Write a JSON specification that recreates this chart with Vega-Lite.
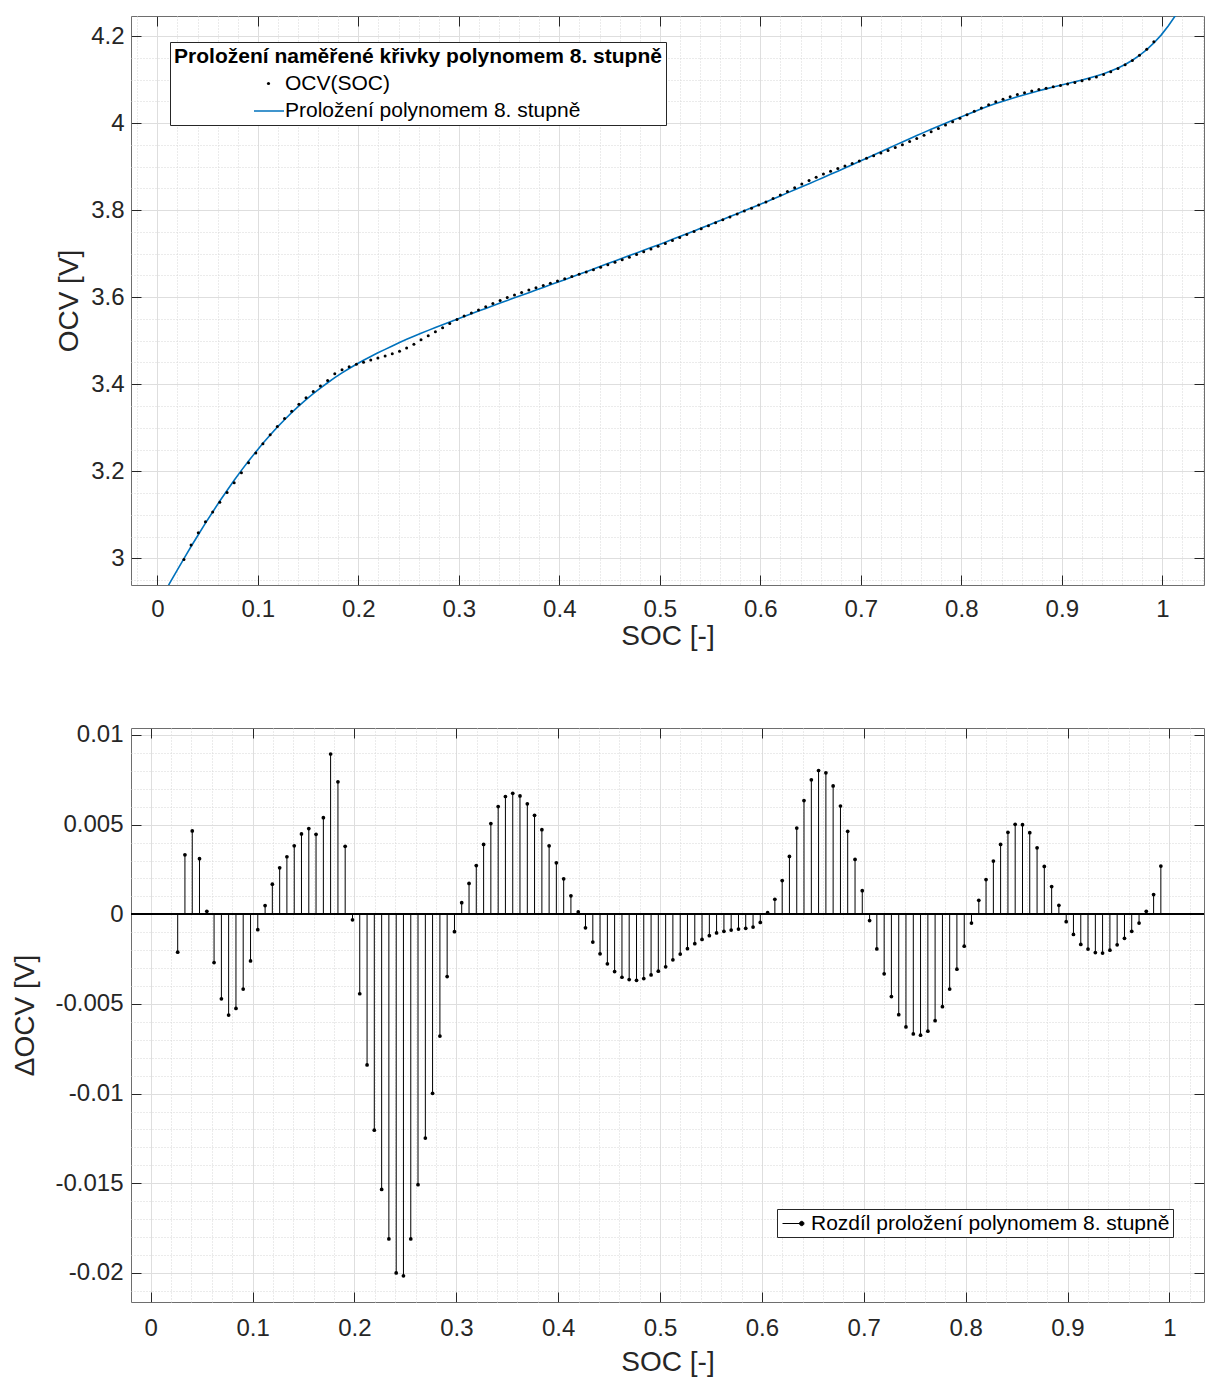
{
 "$schema": "https://vega.github.io/schema/vega-lite/v6.json",
 "background": "white",
 "padding": {"left": 11, "top": 15, "right": 2, "bottom": 4},
 "datasets": {
  "m": [
   {"soc":0.0051,"fit":2.9125},{"soc":0.0122,"fit":2.9422},{"soc":0.0194,"fit":2.9712},
   {"soc":0.0265,"ocv":2.9974,"fit":2.9995,"d":-0.00211},
   {"soc":0.0336,"ocv":3.0304,"fit":3.0271,"d":0.00332},
   {"soc":0.0408,"ocv":3.0589,"fit":3.0542,"d":0.00465},
   {"soc":0.0479,"ocv":3.0838,"fit":3.0807,"d":0.0031},
   {"soc":0.0551,"ocv":3.1067,"fit":3.1065,"d":0.00017},
   {"soc":0.0622,"ocv":3.1289,"fit":3.1316,"d":-0.00269},
   {"soc":0.0694,"ocv":3.1512,"fit":3.1559,"d":-0.00471},
   {"soc":0.0765,"ocv":3.1738,"fit":3.1794,"d":-0.00562},
   {"soc":0.0837,"ocv":3.1968,"fit":3.2020,"d":-0.00525},
   {"soc":0.0908,"ocv":3.2195,"fit":3.2237,"d":-0.00417},
   {"soc":0.0980,"ocv":3.2419,"fit":3.2445,"d":-0.0026},
   {"soc":0.1051,"ocv":3.2635,"fit":3.2644,"d":-0.00086},
   {"soc":0.1123,"ocv":3.2839,"fit":3.2834,"d":0.00049},
   {"soc":0.1194,"ocv":3.3031,"fit":3.3014,"d":0.00168},
   {"soc":0.1266,"ocv":3.3211,"fit":3.3185,"d":0.00259},
   {"soc":0.1337,"ocv":3.3379,"fit":3.3347,"d":0.00321},
   {"soc":0.1409,"ocv":3.3539,"fit":3.3501,"d":0.00382},
   {"soc":0.1480,"ocv":3.3691,"fit":3.3646,"d":0.00448},
   {"soc":0.1552,"ocv":3.3831,"fit":3.3783,"d":0.00478},
   {"soc":0.1623,"ocv":3.3957,"fit":3.3912,"d":0.00446},
   {"soc":0.1695,"ocv":3.4088,"fit":3.4034,"d":0.00539},
   {"soc":0.1766,"ocv":3.4239,"fit":3.4150,"d":0.00894},
   {"soc":0.1838,"ocv":3.4333,"fit":3.4259,"d":0.00739},
   {"soc":0.1909,"ocv":3.4400,"fit":3.4362,"d":0.00379},
   {"soc":0.1981,"ocv":3.4456,"fit":3.4459,"d":-0.00031},
   {"soc":0.2052,"ocv":3.4507,"fit":3.4551,"d":-0.00443},
   {"soc":0.2124,"ocv":3.4554,"fit":3.4638,"d":-0.0084},
   {"soc":0.2195,"ocv":3.4601,"fit":3.4721,"d":-0.01204},
   {"soc":0.2267,"ocv":3.4647,"fit":3.4800,"d":-0.01534},
   {"soc":0.2338,"ocv":3.4698,"fit":3.4879,"d":-0.0181},
   {"soc":0.2410,"ocv":3.4760,"fit":3.4960,"d":-0.02},
   {"soc":0.2481,"ocv":3.4830,"fit":3.5032,"d":-0.02016},
   {"soc":0.2553,"ocv":3.4921,"fit":3.5102,"d":-0.0181},
   {"soc":0.2624,"ocv":3.5019,"fit":3.5170,"d":-0.01508},
   {"soc":0.2696,"ocv":3.5112,"fit":3.5237,"d":-0.01248},
   {"soc":0.2767,"ocv":3.5203,"fit":3.5303,"d":-0.00998},
   {"soc":0.2839,"ocv":3.5300,"fit":3.5368,"d":-0.00679},
   {"soc":0.2910,"ocv":3.5397,"fit":3.5432,"d":-0.00347},
   {"soc":0.2982,"ocv":3.5485,"fit":3.5495,"d":-0.00097},
   {"soc":0.3053,"ocv":3.5565,"fit":3.5558,"d":0.00065},
   {"soc":0.3125,"ocv":3.5637,"fit":3.5620,"d":0.00172},
   {"soc":0.3196,"ocv":3.5708,"fit":3.5681,"d":0.00272},
   {"soc":0.3268,"ocv":3.5781,"fit":3.5742,"d":0.0039},
   {"soc":0.3339,"ocv":3.5854,"fit":3.5803,"d":0.00506},
   {"soc":0.3411,"ocv":3.5924,"fit":3.5864,"d":0.00601},
   {"soc":0.3482,"ocv":3.5990,"fit":3.5924,"d":0.00657},
   {"soc":0.3554,"ocv":3.6052,"fit":3.5984,"d":0.00675},
   {"soc":0.3625,"ocv":3.6110,"fit":3.6044,"d":0.0066},
   {"soc":0.3697,"ocv":3.6166,"fit":3.6104,"d":0.00616},
   {"soc":0.3768,"ocv":3.6219,"fit":3.6164,"d":0.00552},
   {"soc":0.3840,"ocv":3.6271,"fit":3.6224,"d":0.00472},
   {"soc":0.3911,"ocv":3.6322,"fit":3.6284,"d":0.00382},
   {"soc":0.3982,"ocv":3.6372,"fit":3.6343,"d":0.00287},
   {"soc":0.4054,"ocv":3.6423,"fit":3.6403,"d":0.00198},
   {"soc":0.4125,"ocv":3.6473,"fit":3.6463,"d":0.00103},
   {"soc":0.4197,"ocv":3.6525,"fit":3.6524,"d":0.00013},
   {"soc":0.4268,"ocv":3.6578,"fit":3.6585,"d":-0.00075},
   {"soc":0.4340,"ocv":3.6632,"fit":3.6647,"d":-0.00155},
   {"soc":0.4411,"ocv":3.6687,"fit":3.6709,"d":-0.0022},
   {"soc":0.4483,"ocv":3.6743,"fit":3.6771,"d":-0.00276},
   {"soc":0.4554,"ocv":3.6801,"fit":3.6833,"d":-0.00319},
   {"soc":0.4626,"ocv":3.6859,"fit":3.6894,"d":-0.00351},
   {"soc":0.4697,"ocv":3.6919,"fit":3.6955,"d":-0.00364},
   {"soc":0.4769,"ocv":3.6979,"fit":3.7016,"d":-0.00368},
   {"soc":0.4840,"ocv":3.7041,"fit":3.7077,"d":-0.00358},
   {"soc":0.4912,"ocv":3.7105,"fit":3.7139,"d":-0.00338},
   {"soc":0.4983,"ocv":3.7169,"fit":3.7201,"d":-0.00317},
   {"soc":0.5055,"ocv":3.7235,"fit":3.7264,"d":-0.00293},
   {"soc":0.5126,"ocv":3.7303,"fit":3.7328,"d":-0.00254},
   {"soc":0.5198,"ocv":3.7370,"fit":3.7392,"d":-0.00222},
   {"soc":0.5269,"ocv":3.7438,"fit":3.7457,"d":-0.00192},
   {"soc":0.5341,"ocv":3.7506,"fit":3.7522,"d":-0.00164},
   {"soc":0.5412,"ocv":3.7573,"fit":3.7587,"d":-0.0014},
   {"soc":0.5484,"ocv":3.7641,"fit":3.7653,"d":-0.00119},
   {"soc":0.5555,"ocv":3.7709,"fit":3.7719,"d":-0.00104},
   {"soc":0.5627,"ocv":3.7776,"fit":3.7785,"d":-0.00095},
   {"soc":0.5698,"ocv":3.7843,"fit":3.7852,"d":-0.00088},
   {"soc":0.5770,"ocv":3.7910,"fit":3.7918,"d":-0.00082},
   {"soc":0.5841,"ocv":3.7977,"fit":3.7985,"d":-0.00078},
   {"soc":0.5913,"ocv":3.8045,"fit":3.8052,"d":-0.00071},
   {"soc":0.5984,"ocv":3.8116,"fit":3.8120,"d":-0.00045},
   {"soc":0.6056,"ocv":3.8189,"fit":3.8188,"d":0.00009},
   {"soc":0.6127,"ocv":3.8265,"fit":3.8257,"d":0.00084},
   {"soc":0.6199,"ocv":3.8345,"fit":3.8326,"d":0.00188},
   {"soc":0.6270,"ocv":3.8428,"fit":3.8396,"d":0.00323},
   {"soc":0.6342,"ocv":3.8514,"fit":3.8466,"d":0.00481},
   {"soc":0.6413,"ocv":3.8599,"fit":3.8536,"d":0.00634},
   {"soc":0.6485,"ocv":3.8682,"fit":3.8607,"d":0.0075},
   {"soc":0.6556,"ocv":3.8758,"fit":3.8678,"d":0.00802},
   {"soc":0.6628,"ocv":3.8829,"fit":3.8750,"d":0.00789},
   {"soc":0.6699,"ocv":3.8894,"fit":3.8822,"d":0.00716},
   {"soc":0.6771,"ocv":3.8955,"fit":3.8895,"d":0.00604},
   {"soc":0.6842,"ocv":3.9015,"fit":3.8969,"d":0.00463},
   {"soc":0.6914,"ocv":3.9074,"fit":3.9043,"d":0.00306},
   {"soc":0.6985,"ocv":3.9131,"fit":3.9118,"d":0.00132},
   {"soc":0.7057,"ocv":3.9190,"fit":3.9193,"d":-0.00035},
   {"soc":0.7128,"ocv":3.9249,"fit":3.9268,"d":-0.00193},
   {"soc":0.7200,"ocv":3.9310,"fit":3.9343,"d":-0.00332},
   {"soc":0.7271,"ocv":3.9372,"fit":3.9418,"d":-0.00459},
   {"soc":0.7343,"ocv":3.9437,"fit":3.9493,"d":-0.0056},
   {"soc":0.7414,"ocv":3.9504,"fit":3.9567,"d":-0.00628},
   {"soc":0.7486,"ocv":3.9574,"fit":3.9641,"d":-0.00667},
   {"soc":0.7557,"ocv":3.9647,"fit":3.9714,"d":-0.00674},
   {"soc":0.7629,"ocv":3.9721,"fit":3.9786,"d":-0.00652},
   {"soc":0.7700,"ocv":3.9798,"fit":3.9857,"d":-0.00593},
   {"soc":0.7772,"ocv":3.9876,"fit":3.9927,"d":-0.00515},
   {"soc":0.7843,"ocv":3.9954,"fit":3.9996,"d":-0.00417},
   {"soc":0.7914,"ocv":4.0033,"fit":4.0064,"d":-0.00306},
   {"soc":0.7986,"ocv":4.0113,"fit":4.0131,"d":-0.00178},
   {"soc":0.8057,"ocv":4.0192,"fit":4.0197,"d":-0.00049},
   {"soc":0.8129,"ocv":4.0270,"fit":4.0262,"d":0.00078},
   {"soc":0.8200,"ocv":4.0347,"fit":4.0328,"d":0.00194},
   {"soc":0.8272,"ocv":4.0420,"fit":4.0390,"d":0.00297},
   {"soc":0.8343,"ocv":4.0487,"fit":4.0448,"d":0.0039},
   {"soc":0.8415,"ocv":4.0549,"fit":4.0503,"d":0.00457},
   {"soc":0.8486,"ocv":4.0605,"fit":4.0555,"d":0.00502},
   {"soc":0.8558,"ocv":4.0655,"fit":4.0605,"d":0.005},
   {"soc":0.8629,"ocv":4.0699,"fit":4.0653,"d":0.00455},
   {"soc":0.8701,"ocv":4.0736,"fit":4.0699,"d":0.00371},
   {"soc":0.8772,"ocv":4.0770,"fit":4.0743,"d":0.00267},
   {"soc":0.8844,"ocv":4.0802,"fit":4.0786,"d":0.00155},
   {"soc":0.8915,"ocv":4.0832,"fit":4.0827,"d":0.0005},
   {"soc":0.8987,"ocv":4.0863,"fit":4.0867,"d":-0.00041},
   {"soc":0.9058,"ocv":4.0896,"fit":4.0907,"d":-0.00112},
   {"soc":0.9130,"ocv":4.0931,"fit":4.0948,"d":-0.00168},
   {"soc":0.9201,"ocv":4.0971,"fit":4.0990,"d":-0.00194},
   {"soc":0.9273,"ocv":4.1013,"fit":4.1034,"d":-0.00213},
   {"soc":0.9344,"ocv":4.1060,"fit":4.1082,"d":-0.00216},
   {"soc":0.9416,"ocv":4.1115,"fit":4.1135,"d":-0.002},
   {"soc":0.9487,"ocv":4.1178,"fit":4.1195,"d":-0.0017},
   {"soc":0.9559,"ocv":4.1252,"fit":4.1265,"d":-0.00134},
   {"soc":0.9630,"ocv":4.1338,"fit":4.1347,"d":-0.00095},
   {"soc":0.9702,"ocv":4.1438,"fit":4.1443,"d":-0.00049},
   {"soc":0.9773,"ocv":4.1557,"fit":4.1555,"d":0.00017},
   {"soc":0.9845,"ocv":4.1697,"fit":4.1686,"d":0.0011},
   {"soc":0.9916,"ocv":4.1868,"fit":4.1841,"d":0.00269},
   {"soc":0.9988,"fit":4.2021},{"soc":1.0059,"fit":4.2231},{"soc":1.0131,"fit":4.2471},{"soc":1.0202,"fit":4.2741}
  ]
 },
 "vconcat": [
  {
   "width": 1073,
   "height": 569,
   "data": {"name": "m"},
   "layer": [
    {
     "mark": {"type": "line", "strokeWidth": 1.6, "clip": true},
     "encoding": {
      "x": {"field": "soc", "type": "quantitative",
            "scale": {"domain": [-0.02617, 1.04149], "nice": false, "zero": false},
            "axis": {"orient": "top", "values": [0,0.1,0.2,0.3,0.4,0.5,0.6,0.7,0.8,0.9,1], "labels": false, "grid": false, "ticks": true, "tickSize": -10, "domain": false, "title": null}},
      "y": {"field": "fit", "type": "quantitative",
            "scale": {"domain": [2.9387, 4.246], "nice": false, "zero": false},
            "axis": {"orient": "right", "values": [3,3.2,3.4,3.6,3.8,4,4.2], "labels": false, "grid": false, "ticks": true, "tickSize": -10, "domain": false, "title": null}},
      "stroke": {"datum": "Proložení polynomem 8. stupně",
                 "scale": {"range": ["#0072BD"]},
                 "legend": {"orient": "none", "legendX": 122, "legendY": 79, "zindex": 3,
                            "title": null, "labelExpr": "''", "labelFontSize": 1, "labelLimit": 0,
                            "symbolType": "stroke", "symbolSize": 900, "symbolStrokeWidth": 1.5,
                            "padding": 0, "symbolOffset": 0, "labelOffset": 0}}
     }
    },
    {
     "transform": [{"filter": "isValid(datum.ocv)"}],
     "mark": {"type": "point", "filled": true, "size": 9, "opacity": 1},
     "encoding": {
      "x": {"field": "soc", "type": "quantitative",
            "scale": {"domain": [-0.02617, 1.04149], "nice": false, "zero": false},
            "axis": {"orient": "bottom", "title": "SOC [-]", "titlePadding": 1,
                     "values": [-0.02,0,0.02,0.04,0.06,0.08,0.1,0.12,0.14,0.16,0.18,0.2,0.22,0.24,0.26,0.28,0.3,0.32,0.34,0.36,0.38,0.4,0.42,0.44,0.46,0.48,0.5,0.52,0.54,0.56,0.58,0.6,0.62,0.64,0.66,0.68,0.7,0.72,0.74,0.76,0.78,0.8,0.82,0.84,0.86,0.88,0.9,0.92,0.94,0.96,0.98,1,1.02,1.04],
                     "labelExpr": "abs(datum.value*10-round(datum.value*10))<0.001 ? ''+datum.value : ''",
                     "labelPadding": 22, "tickSize": -10,
                     "tickOpacity": {"condition": {"test": "abs(datum.value*10-round(datum.value*10))<0.001", "value": 1}, "value": 0},
                     "grid": true,
                     "gridColor": {"condition": {"test": "abs(datum.value*10-round(datum.value*10))<0.001", "value": "#dedede"}, "value": "#d6d6d6"},
                     "gridDash": {"condition": {"test": "abs(datum.value*10-round(datum.value*10))<0.001", "value": []}, "value": [1, 2]}}},
      "y": {"field": "ocv", "type": "quantitative",
            "scale": {"domain": [2.9387, 4.246], "nice": false, "zero": false},
            "axis": {"orient": "left", "title": "OCV [V]", "titlePadding": 7,
                     "values": [2.95,3,3.05,3.1,3.15,3.2,3.25,3.3,3.35,3.4,3.45,3.5,3.55,3.6,3.65,3.7,3.75,3.8,3.85,3.9,3.95,4,4.05,4.1,4.15,4.2],
                     "labelExpr": "abs(datum.value*5-round(datum.value*5))<0.001 ? ''+datum.value : ''",
                     "labelPadding": 17, "tickSize": -10,
                     "tickOpacity": {"condition": {"test": "abs(datum.value*5-round(datum.value*5))<0.001", "value": 1}, "value": 0},
                     "grid": true,
                     "gridColor": {"condition": {"test": "abs(datum.value*5-round(datum.value*5))<0.001", "value": "#dedede"}, "value": "#d6d6d6"},
                     "gridDash": {"condition": {"test": "abs(datum.value*5-round(datum.value*5))<0.001", "value": []}, "value": [1, 2]}}},
      "color": {"datum": "OCV(SOC)",
                "scale": {"domain": ["OCV(SOC)", "Proložení polynomem 8. stupně"], "range": ["black", "transparent"]},
                "legend": {"orient": "none", "legendX": 39, "legendY": 26, "zindex": 1,
                           "title": "Proložení naměřené křivky polynomem 8. stupně", "titleLimit": 0,
                           "titleFontSize": 21, "titleFontWeight": "bold", "titleColor": "black", "titleAnchor": "middle", "titlePadding": 6,
                           "labelFontSize": 21, "labelColor": "black", "labelLimit": 0,
                           "symbolType": "circle", "symbolSize": 10, "symbolStrokeWidth": 0,
                           "symbolOffset": 2, "labelOffset": 6, "rowPadding": 5, "padding": 4,
                           "strokeColor": "#262626", "fillColor": "white"}}
     }
    }
   ],
   "resolve": {"axis": {"x": "independent", "y": "independent"}}
  },
  {
   "width": 1073,
   "height": 574,
   "data": {"name": "m"},
   "layer": [
    {
     "mark": {"type": "rule", "color": "black", "strokeWidth": 1.5},
     "encoding": {
      "y": {"datum": 0, "type": "quantitative", "scale": {"domain": [-0.02162, 0.01039], "nice": false, "zero": false}, "axis": null}
     }
    },
    {
     "transform": [{"filter": "isValid(datum.d)"}],
     "mark": {"type": "rule", "strokeWidth": 1},
     "encoding": {
      "x": {"field": "soc", "type": "quantitative",
            "scale": {"domain": [-0.01934, 1.03396], "nice": false, "zero": false},
            "axis": {"orient": "bottom", "title": "SOC [-]", "titlePadding": 8,
                     "values": [0,0.02,0.04,0.06,0.08,0.1,0.12,0.14,0.16,0.18,0.2,0.22,0.24,0.26,0.28,0.3,0.32,0.34,0.36,0.38,0.4,0.42,0.44,0.46,0.48,0.5,0.52,0.54,0.56,0.58,0.6,0.62,0.64,0.66,0.68,0.7,0.72,0.74,0.76,0.78,0.8,0.82,0.84,0.86,0.88,0.9,0.92,0.94,0.96,0.98,1,1.02],
                     "labelExpr": "abs(datum.value*10-round(datum.value*10))<0.001 ? ''+datum.value : ''",
                     "labelPadding": 24, "tickSize": -10,
                     "tickOpacity": {"condition": {"test": "abs(datum.value*10-round(datum.value*10))<0.001", "value": 1}, "value": 0},
                     "grid": true,
                     "gridColor": {"condition": {"test": "abs(datum.value*10-round(datum.value*10))<0.001", "value": "#dedede"}, "value": "#d6d6d6"},
                     "gridDash": {"condition": {"test": "abs(datum.value*10-round(datum.value*10))<0.001", "value": []}, "value": [1, 2]}}},
      "y": {"field": "d", "type": "quantitative",
            "scale": {"domain": [-0.02162, 0.01039], "nice": false, "zero": false},
            "axis": {"orient": "left", "title": "ΔOCV [V]", "titlePadding": 15,
                     "values": [-0.021,-0.02,-0.019,-0.018,-0.017,-0.016,-0.015,-0.014,-0.013,-0.012,-0.011,-0.01,-0.009,-0.008,-0.007,-0.006,-0.005,-0.004,-0.003,-0.002,-0.001,0,0.001,0.002,0.003,0.004,0.005,0.006,0.007,0.008,0.009,0.01],
                     "labelExpr": "abs(datum.value*200-round(datum.value*200))<0.001 ? ''+datum.value : ''",
                     "labelPadding": 18, "tickSize": -10,
                     "tickOpacity": {"condition": {"test": "abs(datum.value*200-round(datum.value*200))<0.001", "value": 1}, "value": 0},
                     "grid": true,
                     "gridColor": {"condition": {"test": "abs(datum.value*200-round(datum.value*200))<0.001", "value": "#dedede"}, "value": "#d6d6d6"},
                     "gridDash": {"condition": {"test": "abs(datum.value*200-round(datum.value*200))<0.001", "value": []}, "value": [1, 2]}}},
      "y2": {"datum": 0},
      "color": {"datum": "Rozdíl proložení polynomem 8. stupně",
                "scale": {"range": ["black"]},
                "legend": {"orient": "none", "legendX": 646, "legendY": 481, "title": null,
                           "labelFontSize": 21, "labelColor": "black", "labelLimit": 0,
                           "symbolSize": 484, "symbolType": "M-1,0H0.75M0.55,0A0.2,0.2,0,1,0,0.95,0A0.2,0.2,0,1,0,0.55,0",
                           "symbolFillColor": "black", "symbolStrokeColor": "black", "symbolStrokeWidth": 1,
                           "symbolOffset": 2, "labelOffset": 6, "padding": 3,
                           "strokeColor": "#262626", "fillColor": "white"}}
     }
    },
    {
     "transform": [{"filter": "isValid(datum.d)"}],
     "mark": {"type": "point", "filled": true, "size": 14, "opacity": 1, "color": "black"},
     "encoding": {
      "x": {"field": "soc", "type": "quantitative",
            "scale": {"domain": [-0.01934, 1.03396], "nice": false, "zero": false},
            "axis": {"orient": "top", "values": [0,0.1,0.2,0.3,0.4,0.5,0.6,0.7,0.8,0.9,1], "labels": false, "grid": false, "ticks": true, "tickSize": -10, "domain": false, "title": null}},
      "y": {"field": "d", "type": "quantitative",
            "scale": {"domain": [-0.02162, 0.01039], "nice": false, "zero": false},
            "axis": {"orient": "right", "values": [-0.02,-0.015,-0.01,-0.005,0,0.005,0.01], "labels": false, "grid": false, "ticks": true, "tickSize": -10, "domain": false, "title": null}}
     }
    }
   ],
   "resolve": {"axis": {"x": "independent", "y": "independent"}}
  }
 ],
 "spacing": 143,
 "bounds": "flush",
 "resolve": {"scale": {"x": "independent", "y": "independent", "color": "independent", "stroke": "independent"}, "legend": {"color": "independent", "stroke": "independent"}},
 "config": {
  "font": "Liberation Sans",
  "view": {"stroke": "#6e6e6e", "strokeWidth": 1},
  "axis": {"labelFont": "Liberation Sans", "titleFont": "Liberation Sans", "labelColor": "#262626", "titleColor": "#262626",
           "titleFontWeight": "normal", "labelFontSize": 24, "titleFontSize": 28, "tickColor": "#262626", "tickWidth": 1,
           "domain": false, "labelOverlap": false, "labelFlush": false, "gridWidth": 1},
  "legend": {"labelFont": "Liberation Sans", "titleFont": "Liberation Sans"}
 }
}
